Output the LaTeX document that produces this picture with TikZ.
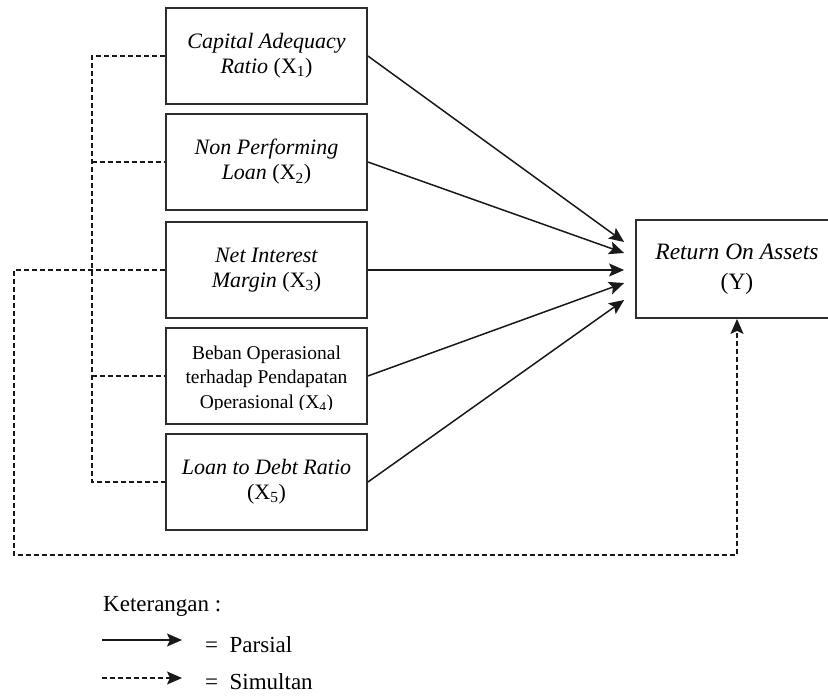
\documentclass[tikz,border=0pt]{standalone}
\usepackage{fontspec}
\setmainfont{Liberation Serif}
\usetikzlibrary{arrows.meta, calc, positioning}
\definecolor{inkline}{RGB}{25, 25, 25}
\definecolor{boxline}{RGB}{45, 45, 45}

\tikzset{
  varbox/.style={draw=boxline, line width=1.8pt, minimum width=201pt, minimum height=96pt,
    align=center, font=\fontsize{22}{25}\selectfont, inner sep=2pt},
  tip/.tip={Stealth[length=15pt, width=13pt, inset=3pt]},
  parsial/.style={inkline, line width=1.5pt, -tip},
  simul/.style={inkline, line width=1.5pt, dash pattern=on 5pt off 3pt},
  legtext/.style={font=\fontsize{23}{27}\selectfont, anchor=base west, inner sep=0pt}
}
\newcommand{\xs}[1]{(X\textsubscript{#1})}

\begin{document}
\begin{tikzpicture}[x=1pt, y=-1pt]
  \useasboundingbox (0,0) rectangle (828,697);
  % Independent variables
  \node[varbox] (x1) at (266.5,56)  {\textit{Capital Adequacy}\\\textit{Ratio} \xs{1}};
  \node[varbox] (x2) at (266.5,162) {\textit{Non Performing}\\\textit{Loan} \xs{2}};
  \node[varbox] (x3) at (266.5,270) {\textit{Net Interest}\\\textit{Margin} \xs{3}};
  \node[varbox] (x4) at (266.5,376) {};
  \node[varbox] (x5) at (266.5,482) {\textit{Loan to Debt Ratio}\\\xs{5}};
  % text of X4 runs out of its frame
  \begin{scope}
    \clip (x4.north west) rectangle ($(x4.south east)+(0,-15)$);
    \node[align=center, inner sep=0pt, font=\fontsize{19.5}{24.5}\selectfont] (x4t) at (266.5,379)
      {Beban Operasional\\terhadap Pendapatan\\Operasional \xs{4}};
  \end{scope}
  % Dependent variable
  \node[varbox, minimum width=202pt, minimum height=98pt, font=\fontsize{23.5}{30}\selectfont]
    (y) at (737,269) {\textit{Return On Assets}\\(Y)};
  % Partial arrows
  \foreach \i/\dy in {1/-27, 2/-16, 3/1, 4/14, 5/31} {
    \coordinate (t\i) at ($(y.west)+(-11,\dy)$);
    \draw[parsial] (x\i.east) -- (t\i);
  }
  % Simultaneous bus
  \coordinate (bus) at (92,0);
  \draw[simul] (x1.west) -- (x1.west -| bus) -- (x5.west -| bus) -- (x5.west);
  \foreach \i in {2,4}
    \draw[simul] (x\i.west -| bus) -- (x\i.west);
  \coordinate (loopl) at (14,555);
  \draw[simul, -tip]
    (x3.west) -- (x3.west -| loopl) -- (loopl) -- (loopl -| y.south) -- (y.south);
  % Legend
  \node[legtext] (ket) at (103,611) {Keterangan :};
  \coordinate (la) at (102,640);
  \coordinate (lb) at (182,640);
  \coordinate (lc) at (102,678);
  \coordinate (ld) at (182,678);
  \draw[parsial] (la) -- (lb);
  \draw[simul, -tip] (lc) -- (ld);
  \node[legtext] (lpar) at (205,652) {=\ \ Parsial};
  \node[legtext] (lsim) at (205,689) {=\ \ Simultan};
\end{tikzpicture}
\end{document}
